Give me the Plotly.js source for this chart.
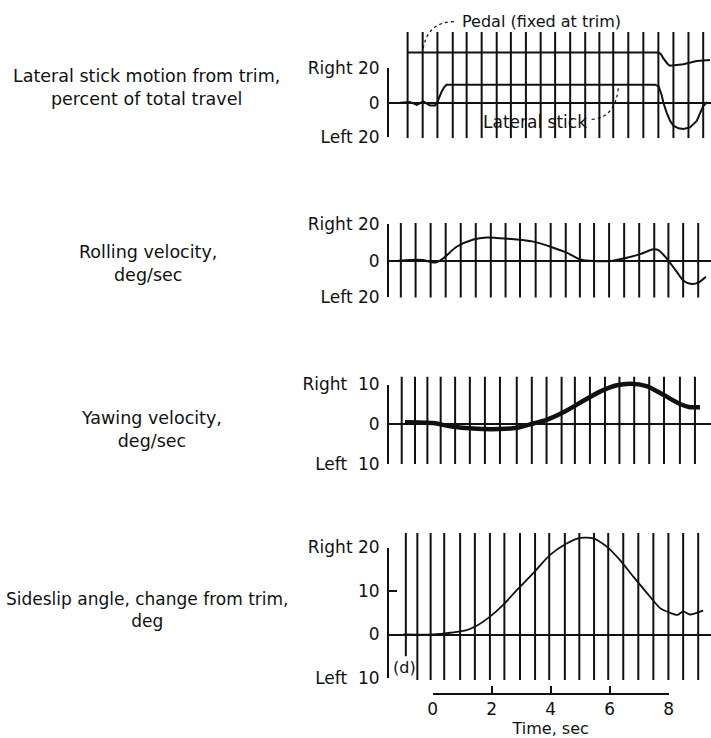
<!DOCTYPE html>
<html>
<head>
<meta charset="utf-8">
<script src="https://cdn.plot.ly/plotly-3.0.1.min.js"></script>
<style>html,body{margin:0;padding:0;background:#fff;}#chart{width:711px;height:738px;}</style>
</head>
<body>
<div id="chart"></div>
<script>
// ---------- data (time in sec) ----------
// Lateral stick motion, percent of total travel
const stickT = [-1.11, -0.77, -0.54, -0.32, -0.09, 0.08, 0.16, 0.24, 0.31, 0.40, 0.47, 7.54, 7.66, 7.76, 7.82, 7.93, 8.05, 8.16, 8.33, 8.50, 8.72, 8.95, 9.17, 9.31];
const stickV = [0, 0.5, -1.2, 0.8, -1.5, -1.5, 0.5, 4.0, 6.7, 9.3, 10.5, 10.5, 9.5, 4.5, 0, -5.7, -10.5, -13.3, -14.8, -15.2, -14.3, -10.5, -1.9, 0.5];
// Pedal trace (drawn offset above, fixed at trim)
const pedalT = [-0.85, 7.65, 7.74, 7.82, 7.95, 8.04, 8.50, 8.95, 9.40];
const pedalV = [29.1, 29.1, 28.2, 25.7, 22.8, 21.5, 22.3, 24.2, 24.8];
// Rolling velocity, deg/sec
const rollT = [-1.17, -0.77, -0.32, -0.03, 0.13, 0.36, 0.81, 1.38, 1.83, 2.51, 3.41, 4.09, 4.54, 4.99, 5.33, 6.01, 6.58, 7.03, 7.48, 7.65, 7.93, 8.27, 8.50, 8.78, 9.00, 9.26];
const rollV = [0, 0.4, 0.4, -0.9, -0.9, 1.3, 7.6, 11.6, 12.7, 12.0, 10.4, 7.1, 4.4, 0.7, 0, -0.2, 1.6, 3.6, 6.2, 5.8, 1.3, -6.0, -10.9, -12.7, -12.0, -8.7];
// Yawing velocity, deg/sec
const yawT = [-0.94, 0.02, 0.59, 1.38, 2.28, 2.85, 3.41, 3.86, 4.43, 5.11, 5.67, 6.24, 6.69, 7.25, 7.82, 8.38, 8.72, 9.06];
const yawV = [0.5, 0.3, -0.5, -1.1, -1.2, -0.9, 0.2, 1.1, 3.0, 5.9, 8.2, 9.8, 10.2, 9.6, 7.4, 5.1, 4.3, 4.3];
// Sideslip angle, change from trim, deg
const betaT = [-1.0, 0.02, 0.59, 1.15, 1.49, 1.94, 2.39, 2.85, 3.41, 3.98, 4.54, 4.99, 5.44, 5.90, 6.35, 6.80, 7.28, 7.72, 8.04, 8.29, 8.49, 8.72, 9.00, 9.17];
const betaV = [0, 0, 0.4, 1.0, 2.0, 4.1, 6.8, 10.2, 14.1, 18.3, 20.9, 22.2, 22.1, 20.2, 17.1, 13.3, 9.4, 6.0, 5.0, 4.5, 5.3, 4.6, 5.1, 5.5];
// Timing lines (record time marks) for each panel, sec
const timing1 = [-0.85, -0.34, 0.16, 0.68, 1.15, 1.66, 2.17, 2.65, 3.16, 3.66, 4.15, 4.66, 5.17, 5.65, 6.12, 6.63, 7.14, 7.65, 8.16, 8.67, 9.17];
const timing2 = [-1.08, -0.58, -0.07, 0.44, 0.95, 1.46, 1.97, 2.47, 2.96, 3.49, 4.00, 4.51, 4.99, 5.47, 5.98, 6.49, 7.00, 7.51, 7.99, 8.49, 9.00];
const timing3 = [-1.05, -0.60, -0.18, 0.27, 0.76, 1.26, 1.77, 2.28, 2.85, 3.36, 3.86, 4.37, 4.82, 5.33, 5.84, 6.33, 6.83, 7.34, 7.84, 8.38, 8.89];
const timing4 = [-0.91, -0.52, -0.07, 0.39, 0.93, 1.43, 1.94, 2.43, 2.96, 3.47, 3.95, 4.48, 4.97, 5.47, 5.95, 6.46, 6.97, 7.48, 7.99, 8.49, 9.00];
// Axis tick labels
const ticks1 = {vals: [-20, 0, 20], text: ['Left 20', '0', 'Right 20']};
const ticks2 = {vals: [-20, 0, 20], text: ['Left 20', '0', 'Right 20']};
const ticks3 = {vals: [-10, 0, 10], text: ['Left\u00a0\u00a010', '0', 'Right\u00a0\u00a010']};
const ticks4 = {vals: [-10, 0, 10, 20], text: ['Left\u00a0\u00a010', '0', '10', 'Right 20']};
const timeTicks = [0, 2, 4, 6, 8];

// ---------- build ----------
const FONT = 'DejaVu Sans, sans-serif';
const K = '#111';

function timingTrace(times, lo, hi, ya, firstLo) {
  const x = [], y = [];
  times.forEach((t, i) => {
    x.push(t, t, null);
    y.push(i === 0 && firstLo !== undefined ? firstLo : lo, hi, null);
  });
  return {type: 'scatter', mode: 'lines', x, y, xaxis: 'x', yaxis: ya,
          line: {color: K, width: 2}, hoverinfo: 'skip', showlegend: false};
}
function curve(x, y, ya, w, shape) {
  return {type: 'scatter', mode: 'lines', x, y, xaxis: 'x', yaxis: ya,
          line: {color: K, width: w, shape: shape || 'spline', smoothing: 0.7}, hoverinfo: 'skip', showlegend: false};
}
function dummy(xa, ya) {
  return {type: 'scatter', mode: 'lines', x: [null], y: [null], xaxis: xa, yaxis: ya, hoverinfo: 'skip', showlegend: false};
}

const traces = [
  timingTrace(timing1, -20.46, 41.04, 'y'),
  timingTrace(timing2, -20.08, 20.57, 'y2'),
  timingTrace(timing3, -10.0, 11.96, 'y3'),
  timingTrace(timing4, -10.46, 23.33, 'y4', -5.0),
  curve(pedalT, pedalV, 'y', 2, 'linear'),
  curve(stickT, stickV, 'y', 2, 'linear'),
  curve(rollT, rollV, 'y2', 2),
  curve(yawT, yawV, 'y3', 4.5),
  curve(betaT, betaV, 'y4', 1.8),
  dummy('x', 'y5'), dummy('x', 'y6'), dummy('x', 'y7'), dummy('x', 'y8'),
  dummy('x2', 'y4')
];

function dataAxis(domain, range) {
  return {domain, range, visible: false, fixedrange: true, anchor: 'x'};
}
function bracketAxis(domain, range, tk) {
  return {domain, range, anchor: 'x', fixedrange: true,
          showline: true, linecolor: K, linewidth: 2,
          ticks: 'inside', ticklen: 8, tickwidth: 2, tickcolor: K,
          tickvals: tk.vals, ticktext: tk.text, ticklabelstandoff: 4,
          tickfont: {family: FONT, size: 17, color: K},
          showgrid: false, zeroline: true, zerolinecolor: K, zerolinewidth: 2};
}
function px2y(p) { return 1 - p / 738; }
function px2x(p) { return (p - 389) / 322; }

const layout = {
  width: 711, height: 738,
  margin: {l: 389, r: 0, t: 0, b: 0},
  paper_bgcolor: '#fff', plot_bgcolor: 'rgba(0,0,0,0)',
  showlegend: false,
  font: {family: FONT, color: K},
  xaxis: {domain: [0, 1], range: [-1.481, 9.434], visible: false, fixedrange: true},
  xaxis2: {domain: [px2x(432.7), px2x(668.7)], range: [0, 8], anchor: 'free', position: px2y(694),
           showline: true, linecolor: K, linewidth: 2, ticks: 'inside', ticklen: 7, tickwidth: 2, tickcolor: K,
           tickvals: timeTicks, tickfont: {family: FONT, size: 17, color: K}, showgrid: false, zeroline: false,
           fixedrange: true,
           title: {text: 'Time, sec', font: {family: FONT, size: 16, color: K}, standoff: 5}},
  yaxis: dataAxis([px2y(140), px2y(30)], [-21.57, 42.20]),
  yaxis2: dataAxis([px2y(305), px2y(215)], [-24.17, 24.93]),
  yaxis3: dataAxis([px2y(470), px2y(370)], [-11.51, 13.65]),
  yaxis4: dataAxis([px2y(690), px2y(525)], [-12.76, 25.17]),
  yaxis5: bracketAxis([px2y(137.3), px2y(68.3)], [-20, 20], ticks1),
  yaxis6: bracketAxis([px2y(297.3), px2y(224)], [-20, 20], ticks2),
  yaxis7: bracketAxis([px2y(464), px2y(384.5)], [-10, 10], ticks3),
  yaxis8: bracketAxis([px2y(678), px2y(547.5)], [-10, 20], ticks4),
  annotations: [],
  shapes: []
};

function lab(text, cx, cy, size) {
  layout.annotations.push({text, xref: 'paper', yref: 'paper', x: px2x(cx), y: px2y(cy),
    xanchor: 'center', yanchor: 'middle', showarrow: false, align: 'center',
    font: {family: FONT, size: size || 17, color: K}});
}
lab('Lateral stick motion from trim,<br>percent of total travel', 146.5, 88, 17.5);
lab('Rolling velocity,<br>deg/sec', 148.5, 263, 17.5);
lab('Yawing velocity,<br>deg/sec', 151, 429, 17.5);
lab('Sideslip angle, change from trim,<br>deg', 147, 610, 17);
lab('Pedal (fixed at trim)', 541, 21.7, 16);
lab('Lateral stick', 534.5, 121.7, 17);
lab('(d)', 404, 667, 16);

// dotted leader lines
function leader(p0, c, p1) {
  layout.shapes.push({type: 'path', xref: 'paper', yref: 'paper',
    path: `M ${px2x(p0[0])} ${px2y(p0[1])} Q ${px2x(c[0])} ${px2y(c[1])} ${px2x(p1[0])} ${px2y(p1[1])}`,
    line: {color: K, width: 1.2, dash: 'dot'}});
}
leader([454, 21.7], [427, 22], [423, 50]);
leader([591.7, 119.3], [615, 118], [618.3, 88.3]);

Plotly.newPlot('chart', traces, layout, {staticPlot: true, displayModeBar: false});
</script>
</body>
</html>
